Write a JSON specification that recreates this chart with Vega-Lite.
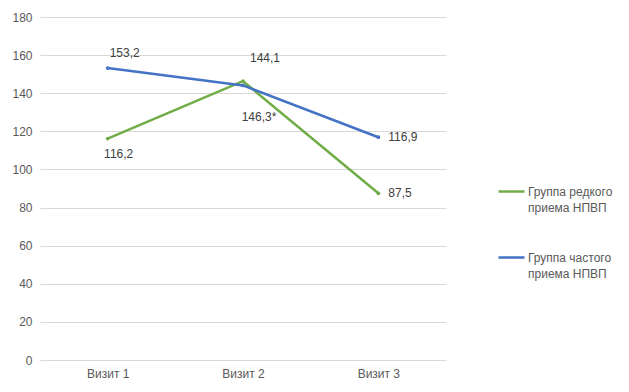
{
  "$schema": "https://vega.github.io/schema/vega-lite/v6.json",
  "width": 406,
  "height": 343,
  "autosize": {"type": "none"},
  "padding": {"left": 40, "top": 17, "right": 183, "bottom": 32},
  "background": "white",
  "config": {
    "font": "Liberation Sans",
    "view": {"stroke": null},
    "axis": {"labelColor": "#595959", "labelFontSize": 12, "ticks": false, "title": null}
  },
  "data": {
    "values": [
      {"visit": "Визит 1", "group": "Группа редкого приема НПВП", "value": 116.2, "label": "116,2"},
      {"visit": "Визит 2", "group": "Группа редкого приема НПВП", "value": 146.3, "label": "146,3*"},
      {"visit": "Визит 3", "group": "Группа редкого приема НПВП", "value": 87.5, "label": "87,5"},
      {"visit": "Визит 1", "group": "Группа частого приема НПВП", "value": 153.2, "label": "153,2"},
      {"visit": "Визит 2", "group": "Группа частого приема НПВП", "value": 144.1, "label": "144,1"},
      {"visit": "Визит 3", "group": "Группа частого приема НПВП", "value": 116.9, "label": "116,9"}
    ]
  },
  "encoding": {
    "x": {"field": "visit", "type": "nominal", "sort": null,
      "scale": {"type": "point", "padding": 0.5},
      "axis": {"labelAngle": 0, "domain": false, "grid": false, "labelPadding": 8}},
    "y": {"field": "value", "type": "quantitative",
      "scale": {"domain": [0, 180], "nice": false, "zero": true},
      "axis": {"values": [0, 20, 40, 60, 80, 100, 120, 140, 160, 180], "domain": false, "grid": true, "gridColor": "#d9d9d9", "labelPadding": 8}}
  },
  "layer": [
    {
      "mark": {"type": "line", "strokeWidth": 2.5, "point": {"filled": true, "size": 14}},
      "encoding": {
        "color": {"field": "group", "type": "nominal",
          "scale": {"domain": ["Группа редкого приема НПВП", "Группа частого приема НПВП"], "range": ["#70AD47", "#4472C4"]},
          "legend": {"title": null, "orient": "none", "legendX": 457, "legendY": 160,
            "symbolType": "stroke", "symbolSize": 676, "symbolStrokeWidth": 2.5,
            "labelFontSize": 12, "labelColor": "#595959", "labelOffset": 2, "rowPadding": 29,
            "labelExpr": "datum.label == 'Группа редкого приема НПВП' ? ['Группа редкого', 'приема НПВП'] : ['Группа частого', 'приема НПВП']",
            "labelLimit": 200,
            "encode": {"labels": {"update": {"lineHeight": {"value": 16}}}}}
        }
      }
    },
    {
      "transform": [{"filter": "datum.label == '153,2'"}],
      "mark": {"type": "text", "fontSize": 12, "color": "#404040", "dx": 17, "dy": -15},
      "encoding": {"text": {"field": "label"}}
    },
    {
      "transform": [{"filter": "datum.label == '144,1'"}],
      "mark": {"type": "text", "fontSize": 12, "color": "#404040", "dx": 22, "dy": -27},
      "encoding": {"text": {"field": "label"}}
    },
    {
      "transform": [{"filter": "datum.label == '116,9' || datum.label == '87,5'"}],
      "mark": {"type": "text", "fontSize": 12, "color": "#404040", "align": "left", "dx": 10, "dy": 0},
      "encoding": {"text": {"field": "label"}}
    },
    {
      "transform": [{"filter": "datum.label == '116,2'"}],
      "mark": {"type": "text", "fontSize": 12, "color": "#404040", "dx": 11, "dy": 15},
      "encoding": {"text": {"field": "label"}}
    },
    {
      "transform": [{"filter": "datum.label == '146,3*'"}],
      "mark": {"type": "text", "fontSize": 12, "color": "#404040", "dx": 16, "dy": 36},
      "encoding": {"text": {"field": "label"}}
    }
  ]
}
